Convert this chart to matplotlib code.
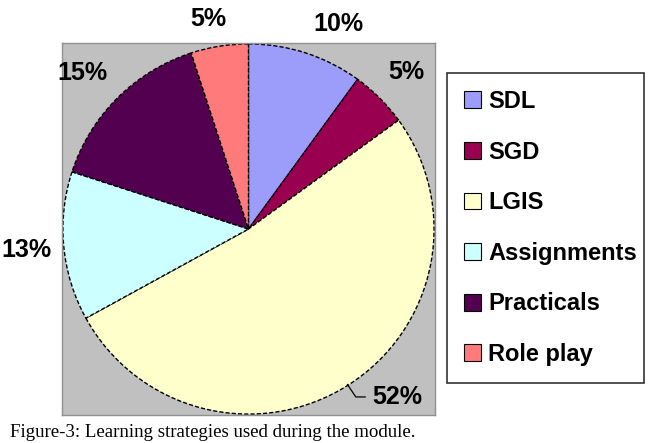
import matplotlib
matplotlib.use("Agg")
import matplotlib.pyplot as plt
from matplotlib.patches import Patch
import numpy as np

categories = ["SDL", "SGD", "LGIS", "Assignments", "Practicals", "Role play"]
values = [10, 5, 52, 13, 15, 5]
colors = ["#9C9CFA", "#990050", "#FFFFCC", "#CCFFFF", "#52004F", "#FF7A7A"]
caption = "Figure-3: Learning strategies used during the module."

W, H = 650, 443
fig = plt.figure(figsize=(W / 100, H / 100), dpi=100)
fig.patch.set_facecolor("white")

# plot area (gray box) in pixel coords
px0, py0, px1, py1 = 62, 43, 435, 415
ax = fig.add_axes([px0 / W, (H - py1) / H, (px1 - px0) / W, (py1 - py0) / H])
ax.set_facecolor("#C0C0C0")
for s in ax.spines.values():
    s.set_edgecolor("#909090")
    s.set_linewidth(1)

wedges, texts, autotexts = ax.pie(
    values, colors=colors, startangle=90, counterclock=False, radius=0.995,
    autopct=lambda p: f"{p:.0f}%", pctdistance=1.2,
    wedgeprops=dict(edgecolor="black", linewidth=1.0, linestyle=(0, (3, 1.5))),
    textprops=dict(fontsize=18, fontweight="bold", family="Liberation Sans", color="black"),
    frame=True,
)
ax.set_xlim(-1, 1)
ax.set_ylim(-1, 1)
ax.set_aspect("auto")
ax.set_xticks([])
ax.set_yticks([])

# adjust label positions
autotexts[0].set_position((0.48, 1.10))
autotexts[4].set_position((-0.89, 0.84))
autotexts[5].set_position((-0.215, 1.13))

# LGIS label with leader line
w = wedges[2]
mid = np.deg2rad((w.theta1 + w.theta2) / 2)
ex, ey = np.cos(mid) * 0.99, np.sin(mid) * 0.99
autotexts[2].set_position((0.665, -0.905))
autotexts[2].set_ha("left")
autotexts[2].set_va("center")
ax.plot([ex, ex + 0.045, ex + 0.095], [ey, -0.903, -0.903], color="black", lw=0.9,
        clip_on=False)

# legend
handles = [Patch(facecolor=c, edgecolor="black", linewidth=0.8) for c in colors]
lx0, ly0, lx1, ly1 = 447, 73, 644, 382
leg = fig.legend(
    handles, categories, loc="upper left",
    bbox_to_anchor=(lx0 / W, (H - ly1) / H, (lx1 - lx0) / W, (ly1 - ly0) / H),
    mode="expand", borderaxespad=0, borderpad=0.72, labelspacing=1.17,
    handlelength=0.72, handleheight=0.72, handletextpad=0.3,
    frameon=True, fancybox=False,
    prop=dict(family="Liberation Sans", weight="bold", size=17),
)
leg.get_frame().set_edgecolor("black")
leg.get_frame().set_linewidth(1.2)

fig.text(10 / W, (H - 437) / H, caption, family="Liberation Serif", fontsize=13.6,
         va="baseline", ha="left", color="black")

fig.savefig("out.png", dpi=100)
